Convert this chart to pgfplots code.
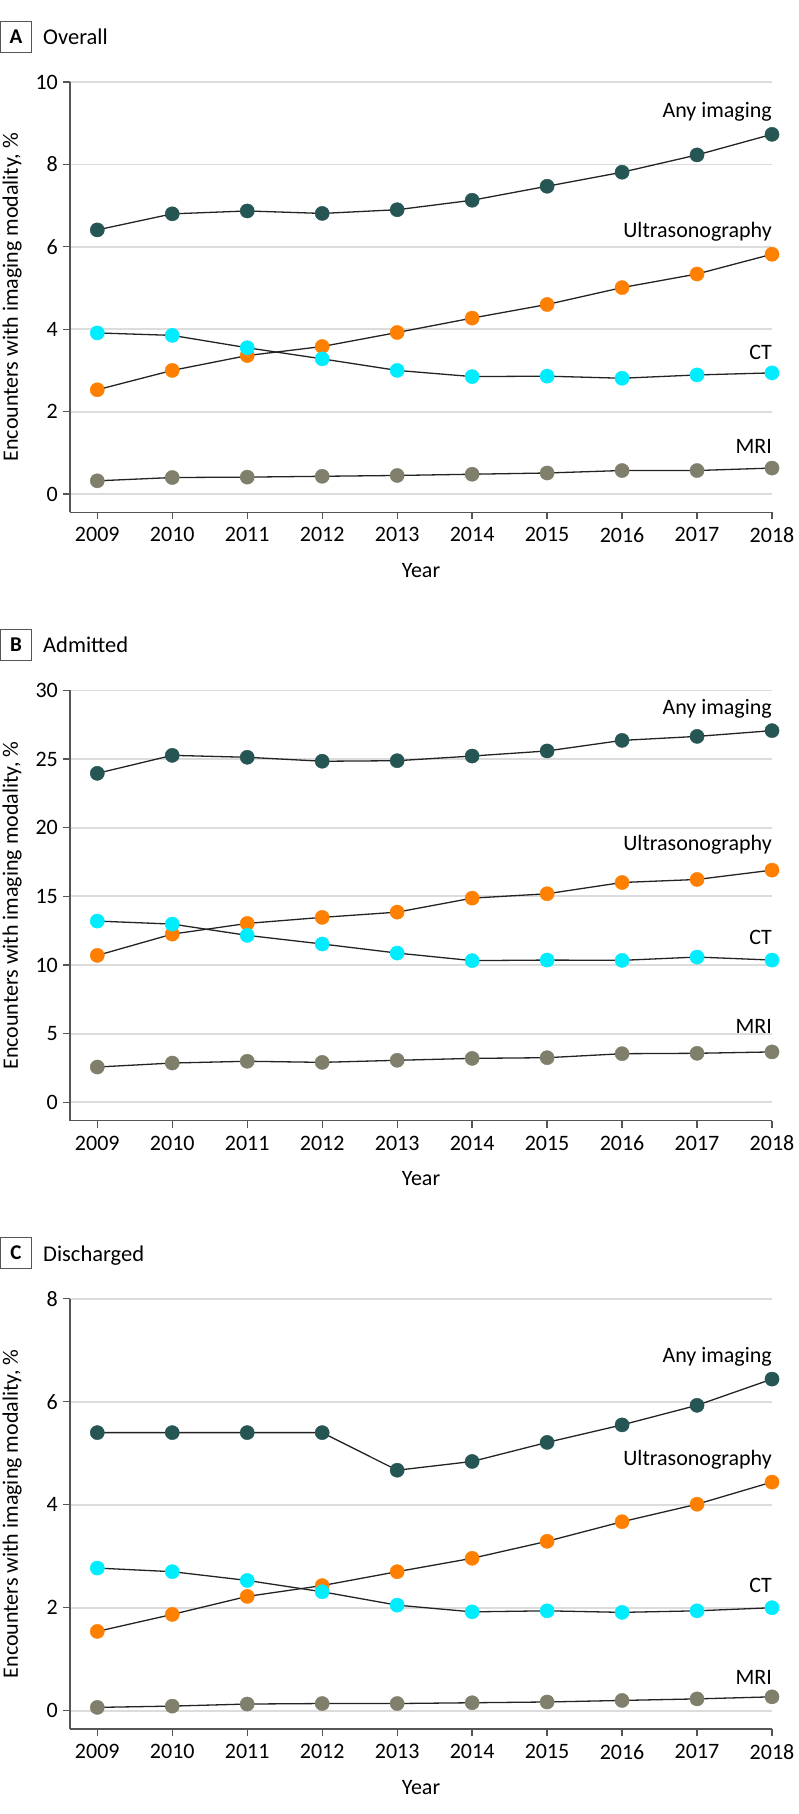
\documentclass[border=0pt]{standalone}
\usepackage{pgfplots}
\usepackage{pgfplotstable}
\pgfplotsset{compat=1.18}
\usepackage{fontspec}
\setmainfont{Carlito}

\definecolor{anyc}{RGB}{38,86,84}
\definecolor{usc}{RGB}{255,128,0}
\definecolor{ctc}{RGB}{0,236,255}
\definecolor{mric}{RGB}{128,127,108}
\definecolor{gridc}{RGB}{220,220,220}
\definecolor{axc}{RGB}{85,85,85}
\definecolor{linec}{RGB}{35,35,35}

\pgfplotstableread{
year any us ct mri
2009 6.41 2.53 3.91 0.32
2010 6.80 3.00 3.85 0.40
2011 6.87 3.36 3.55 0.41
2012 6.81 3.58 3.28 0.43
2013 6.90 3.92 3.00 0.45
2014 7.13 4.27 2.85 0.48
2015 7.47 4.60 2.86 0.51
2016 7.81 5.01 2.81 0.57
2017 8.23 5.34 2.89 0.57
2018 8.73 5.82 2.94 0.63
}\tabA

\pgfplotstableread{
year any us ct mri
2009 23.96 10.70 13.20 2.57
2010 25.27 12.25 12.98 2.86
2011 25.13 13.03 12.16 2.99
2012 24.84 13.47 11.53 2.91
2013 24.88 13.85 10.87 3.06
2014 25.22 14.87 10.32 3.20
2015 25.59 15.19 10.36 3.25
2016 26.36 16.01 10.34 3.54
2017 26.65 16.23 10.58 3.57
2018 27.07 16.91 10.36 3.67
}\tabB

\pgfplotstableread{
year any us ct mri
2009 5.40 1.54 2.77 0.065
2010 5.40 1.87 2.70 0.09
2011 5.40 2.22 2.53 0.13
2012 5.40 2.43 2.31 0.14
2013 4.67 2.70 2.05 0.14
2014 4.84 2.96 1.92 0.155
2015 5.21 3.29 1.94 0.17
2016 5.55 3.67 1.91 0.20
2017 5.93 4.01 1.94 0.23
2018 6.44 4.44 2.00 0.27
}\tabC

\newcommand{\fnt}{\fontsize{22}{24}\selectfont}

\tikzset{lab/.style={anchor=east, inner sep=0pt, font=\fnt}}

\pgfplotsset{
 panel/.style={
  scale only axis, width=702pt, height=430.3pt,
  xmin=2008.636, xmax=2018,
  axis x line*=bottom, axis y line*=left,
  axis line style={axc, line width=1.3pt},
  xtick={2009,2010,...,2018},
  ymajorgrids, major grid style={gridc, line width=1.8pt},
  tick align=outside, major tick length=7pt,
  tick style={axc, line width=1.3pt},
  /pgf/number format/1000 sep={},
  /pgf/number format/assume math mode=true,
  tick label style={font=\fnt, text=black},
  xticklabel style={inner sep=0pt, yshift=-8pt},
  yticklabel style={inner sep=0pt, xshift=-5pt},
  label style={font=\fnt},
  xlabel={Year},
  ylabel={Encounters with imaging modality, \%},
  xlabel style={at={(axis description cs:0.5,-0.1349)}, anchor=center},
  ylabel style={at={(axis description cs:-0.0826,0.5)}, anchor=center},
  clip=false,
 },
 lin/.style={linec, line width=1.3pt, no marks},
 mk/.style={only marks, mark=*, mark size=7.1pt, color=#1, mark options={solid, fill=#1, draw=#1, line width=0.4pt}},
}

\newcommand{\series}[1]{%
  \addplot[lin] table[x=year,y=any]{#1};
  \addplot[lin] table[x=year,y=us]{#1};
  \addplot[lin] table[x=year,y=ct]{#1};
  \addplot[lin] table[x=year,y=mri]{#1};
  \addplot[mk=anyc] table[x=year,y=any]{#1};
  \addplot[mk=usc] table[x=year,y=us]{#1};
  \addplot[mk=ctc] table[x=year,y=ct]{#1};
  \addplot[mk=mric] table[x=year,y=mri]{#1};
}

\begin{document}
\begin{tikzpicture}
\path[use as bounding box] (0pt,0pt) rectangle (798pt,-1814pt);

% Panel A
\node[draw=axc, line width=1pt, minimum width=31pt, minimum height=30.5pt, inner sep=0pt, font=\fontsize{21}{24}\selectfont\bfseries] at (15.9pt,-37pt) {A};
\node[anchor=base west, inner sep=0pt, font=\fontsize{22.5}{26}\selectfont] at (43pt,-44.5pt) {Overall};
\begin{axis}[panel, at={(70pt,-512.3pt)}, anchor=south west,
  ymin=-0.444, ymax=10, ytick={0,2,...,10}]
  \series{\tabA}
  \node[lab] at (axis cs:2018,9.27) {Any imaging};
  \node[lab] at (axis cs:2018,6.37) {Ultrasonography};
  \node[lab] at (axis cs:2018,3.43) {CT};
  \node[lab] at (axis cs:2018,1.15) {MRI};
\end{axis}

% Panel B
\node[draw=axc, line width=1pt, minimum width=31pt, minimum height=31pt, inner sep=0pt, font=\fontsize{21}{24}\selectfont\bfseries] at (15.9pt,-645pt) {B};
\node[anchor=base west, inner sep=0pt, font=\fontsize{22.5}{26}\selectfont] at (43pt,-652.7pt) {Admitted};
\begin{axis}[panel, at={(70pt,-1120.7pt)}, anchor=south west,
  ymin=-1.34, ymax=30, ytick={0,5,...,30}]
  \series{\tabB}
  \node[lab] at (axis cs:2018,28.67) {Any imaging};
  \node[lab] at (axis cs:2018,18.77) {Ultrasonography};
  \node[lab] at (axis cs:2018,12.0) {CT};
  \node[lab] at (axis cs:2018,5.51) {MRI};
\end{axis}

% Panel C
\node[draw=axc, line width=1pt, minimum width=31pt, minimum height=31pt, inner sep=0pt, font=\fontsize{21}{24}\selectfont\bfseries] at (15.9pt,-1252.8pt) {C};
\node[anchor=base west, inner sep=0pt, font=\fontsize{22.5}{26}\selectfont] at (43pt,-1261pt) {Discharged};
\begin{axis}[panel, at={(70pt,-1729pt)}, anchor=south west,
  ymin=-0.355, ymax=8, ytick={0,2,...,8}]
  \series{\tabC}
  \node[lab] at (axis cs:2018,6.88) {Any imaging};
  \node[lab] at (axis cs:2018,4.88) {Ultrasonography};
  \node[lab] at (axis cs:2018,2.44) {CT};
  \node[lab] at (axis cs:2018,0.65) {MRI};
\end{axis}
\end{tikzpicture}
\end{document}
